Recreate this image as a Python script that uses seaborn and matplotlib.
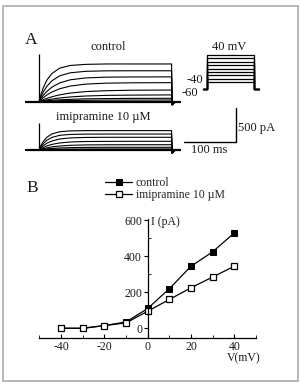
import numpy as np
import pandas as pd
import matplotlib.pyplot as plt
from matplotlib.patches import Rectangle
from matplotlib.ticker import MultipleLocator
import seaborn as sns

# ---- data ----
# I-V relation (panel B)
voltage = [-40, -30, -20, -10, 0, 10, 20, 30, 40]
i_control = [0, 0, 15, 35, 110, 220, 345, 425, 530]
i_imipramine = [0, 0, 15, 30, 95, 160, 225, 285, 345]

# current traces (panel A), pA sampled at these times (ms)
t_samples = [0, 4, 8, 15, 25, 40, 60, 90, 130, 180, 255]
control_traces = [
    [0, 111, 200, 316, 416, 494, 533, 549, 555, 555, 555],
    [0, 76, 139, 225, 309, 381, 425, 447, 454, 455, 455],
    [0, 49, 91, 151, 215, 277, 322, 350, 361, 364, 365],
    [0, 30, 57, 98, 143, 191, 230, 259, 273, 278, 280],
    [0, 15, 28, 49, 73, 101, 127, 149, 162, 169, 172],
    [0, 8, 15, 26, 39, 55, 70, 84, 93, 97, 100],
    [0, 4, 7, 13, 20, 28, 35, 42, 46, 49, 50],
    [0, 2, 4, 6, 10, 14, 17, 21, 23, 24, 25],
]
imipramine_traces = [
    [0, 71, 124, 187, 237, 269, 281, 285, 285, 285, 285],
    [0, 52, 92, 143, 186, 216, 229, 234, 235, 235, 235],
    [0, 34, 62, 99, 133, 162, 178, 185, 187, 187, 187],
    [0, 20, 36, 60, 83, 104, 118, 125, 127, 128, 128],
    [0, 10, 19, 32, 46, 59, 69, 75, 77, 78, 78],
    [0, 5, 9, 16, 23, 30, 35, 38, 40, 40, 40],
    [0, 2, 4, 6, 9, 11, 13, 14, 15, 15, 15],
]
spike_control = 706
spike_imipramine = 397
tail_dip = -45

# voltage protocol
step_levels = [-40, -30, -20, -10, 0, 10, 20, 30, 40]
holding = -60
step_len = 90

W, H = 301, 391


def rect(x0, y0, x1, y1):
    # pixel box (top-left origin) -> figure fraction
    return [x0 / W, 1 - y1 / H, (x1 - x0) / W, (y1 - y0) / H]


def ftext(x, y, s, **kw):
    kw.setdefault('ha', 'center')
    kw.setdefault('va', 'center')
    kw.setdefault('fontsize', 9)
    kw.setdefault('color', '#1a1a1a')
    fig.text(x / W, 1 - y / H, s, **kw)


def traces_frame(traces):
    rows = []
    for k, tr in enumerate(traces):
        times = [-27] + t_samples + [256, 262, 272]
        vals = [0] + tr + [tail_dip, 0, 0]
        for t, v in zip(times, vals):
            rows.append((k, t, v))
    return pd.DataFrame(rows, columns=['trace', 'time', 'current'])


sns.set_style('white')
plt.rcParams['font.family'] = ['Liberation Serif', 'DejaVu Serif']
plt.rcParams['axes.unicode_minus'] = False

fig = plt.figure(figsize=(W / 100, H / 100), dpi=100, facecolor='white')
fig.patches.append(Rectangle((3 / W, 1 - 381 / H), 295 / W, 375 / H,
                             transform=fig.transFigure, fill=False,
                             edgecolor='#b8b8b8', lw=1.4))

# ---- panel A: control traces ----
ax1 = fig.add_axes(rect(25, 48, 185, 108))
df_c = traces_frame(control_traces)
sns.lineplot(data=df_c, x='time', y='current', units='trace', estimator=None,
             color='k', lw=0.8, ax=ax1)
ax1.plot([-27, 272], [0, 0], color='k', lw=1.6)
ax1.vlines(0, 0, spike_control, color='k', lw=0.9)
ax1.set_xlim(-26.9, 280.8)
ax1.set_ylim(-92.6, 789.7)
ax1.axis('off')

# ---- panel A: imipramine traces ----
ax2 = fig.add_axes(rect(25, 115, 185, 160))
df_i = traces_frame(imipramine_traces)
sns.lineplot(data=df_i, x='time', y='current', units='trace', estimator=None,
             color='k', lw=0.8, ax=ax2)
ax2.plot([-23, 272], [0, 0], color='k', lw=1.6)
ax2.vlines(0, 0, spike_imipramine, color='k', lw=0.9)
ax2.set_xlim(-26.9, 280.8)
ax2.set_ylim(-147, 515)
ax2.axis('off')
# scale bar 100 ms / 500 pA
ax2.plot([279.4, 379.4, 379.4], [122, 122, 622], color='k', lw=1.0,
         clip_on=False)

# ---- voltage protocol ----
ax3 = fig.add_axes(rect(195, 50, 265, 95))
for v in step_levels:
    ax3.plot([-8, 0, 0, step_len, step_len, 99],
             [holding, holding, v, v, holding, holding], color='k', lw=0.9)
ax3.set_xlim(-23, 111)
ax3.set_ylim(-77.6, 54.7)
ax3.axis('off')

ftext(31, 40, 'A', fontsize=12.5)
ftext(108, 47, 'control')
ftext(229, 47, '40 mV')
ftext(203, 80, '-40', ha='right')
ftext(198, 92.5, '-60', ha='right')
ftext(103, 117, 'imipramine 10 µM')
ftext(238, 128, '500 pA', ha='left')
ftext(209, 150, '100 ms')

# ---- panel B: I-V ----
ax4 = fig.add_axes(rect(39.4, 218.5, 256, 338))
df_iv = pd.DataFrame({'V': voltage, 'control': i_control,
                      'imipramine': i_imipramine})
sns.lineplot(data=df_iv, x='V', y='control', color='k', lw=0.9, marker='s',
             markersize=5, markerfacecolor='k', markeredgecolor='k',
             label='control', ax=ax4)
sns.lineplot(data=df_iv, x='V', y='imipramine', color='k', lw=0.9,
             marker='s', markersize=5, markerfacecolor='white',
             markeredgecolor='k', markeredgewidth=0.9,
             label='imipramine 10 µM', ax=ax4)
ax4.set_xlim(-50, 50)
ax4.set_ylim(-54, 610)
ax4.spines['left'].set_position(('data', 0))
for s in ['top', 'right']:
    ax4.spines[s].set_visible(False)
for s in ['left', 'bottom']:
    ax4.spines[s].set_color('k')
    ax4.spines[s].set_linewidth(0.9)
ax4.set_xticks([-40, -20, 0, 20, 40])
ax4.set_yticks([0, 200, 400, 600])
ax4.xaxis.set_minor_locator(MultipleLocator(10))
ax4.yaxis.set_minor_locator(MultipleLocator(100))
ax4.tick_params(left=True, bottom=True, which='both')
ax4.tick_params(which='major', length=3, width=0.8, labelsize=8.5,
                colors='k', labelcolor='#1a1a1a')
ax4.tick_params(which='minor', length=2, width=0.7)
ax4.tick_params(axis='x', which='both', direction='in', pad=2)
ax4.tick_params(axis='y', which='major', direction='out', pad=1)
ax4.tick_params(axis='y', which='minor', direction='in')
ax4.set_xlabel('')
ax4.set_ylabel('')
ax4.set_facecolor('none')
ax4.legend(loc='upper left', bbox_to_anchor=(105 / W, 1 - 177 / H),
           bbox_transform=fig.transFigure, frameon=False, fontsize=8.5,
           handlelength=2.3, handletextpad=0.3, labelspacing=0.0,
           borderpad=0, borderaxespad=0)

ftext(32, 188, 'B', fontsize=12.5)
ftext(151, 222, 'I (pA)', ha='left', fontsize=8.5)
ftext(227, 358, 'V(mV)', ha='left', fontsize=8.5)

fig.savefig('out.png', dpi=100, facecolor='white')
